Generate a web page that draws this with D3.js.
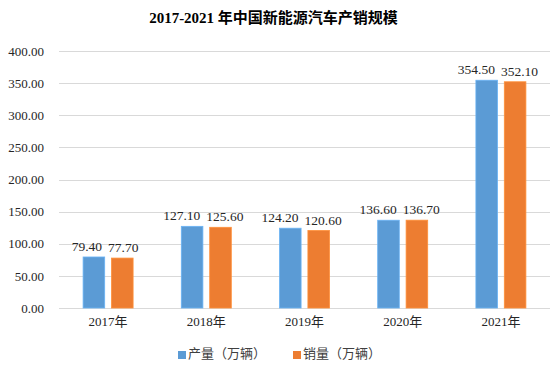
<!DOCTYPE html>
<html>
<head>
<meta charset="utf-8">
<script src="https://cdn.jsdelivr.net/npm/d3@7"></script>
<style>
  body { margin: 0; background: #fff; }
  text { font-family: "Liberation Serif", "Noto Sans CJK SC", serif; }
</style>
</head>
<body>
<div id="chart"></div>
<script>
const years = ["2017年", "2018年", "2019年", "2020年", "2021年"];
const production = [79.40, 127.10, 124.20, 136.60, 354.50];
const sales = [77.70, 125.60, 120.60, 136.70, 352.10];
const seriesNames = ["产量（万辆）", "销量（万辆）"];
const colors = ["#5b9bd5", "#ed7d31"];
const yTicks = [0, 50, 100, 150, 200, 250, 300, 350, 400];

const width = 557,
    height = 371,
    margin = ({ top: 51, right: 7, bottom: 63, left: 59 });

let svg = d3.select("#chart")
    .append("svg")
    .attr("width", width)
    .attr("height", height);

svg.append("text")
    .attr("x", width / 2 - 5)
    .attr("y", 23)
    .attr("text-anchor", "middle")
    .style("font-size", "15px")
    .style("font-weight", "bold")
    .text("2017-2021 年中国新能源汽车产销规模");

let x = d3.scaleBand()
    .domain(years)
    .range([margin.left, width - margin.right]);

let xs = d3.scaleBand()
    .domain([0, 1])
    .range([x.bandwidth() / 2 - 25, x.bandwidth() / 2 + 25])
    .paddingInner(0.24);

let y = d3.scaleLinear()
    .domain([0, 400])
    .range([height - margin.bottom, margin.top]);

// gridlines
svg.append("g")
    .selectAll("line")
    .data(yTicks)
    .join("line")
    .attr("x1", margin.left)
    .attr("x2", width - margin.right)
    .attr("y1", d => Math.round(y(d)) + 0.5)
    .attr("y2", d => Math.round(y(d)) + 0.5)
    .attr("stroke", "#d9d9d9")
    .attr("stroke-width", 1);

// y labels
let yAxis = svg.append("g")
    .attr("transform", `translate(${margin.left - 15},0)`)
    .call(d3.axisLeft(y).tickValues(yTicks).tickFormat(d3.format(".2f")).tickSize(0));
yAxis.select(".domain").remove();
yAxis.selectAll("text")
    .attr("x", 0)
    .style("font-size", "13px")
    .style("font-family", "'Liberation Serif', serif")
    .attr("fill", "#262626");

// x labels
let xAxis = svg.append("g")
    .attr("transform", `translate(0,${height - margin.bottom + 6})`)
    .call(d3.axisBottom(x).tickSize(0));
xAxis.select(".domain").remove();
xAxis.selectAll("text")
    .style("font-size", "13px")
    .style("font-family", "'Liberation Serif', 'Noto Sans CJK SC', serif")
    .attr("fill", "#262626");

const series = [production, sales];

series.forEach((vals, i) => {
    let g = svg.append("g");
    g.selectAll("rect")
        .data(vals)
        .join("rect")
        .attr("x", (d, j) => x(years[j]) + xs(i))
        .attr("width", xs.bandwidth())
        .attr("y", d => y(d))
        .attr("height", d => y(0) - y(d))
        .attr("fill", colors[i])
        .attr("stroke", d3.color(colors[i]).brighter(0.4))
        .attr("stroke-width", 0.8);

    // labels pushed apart so the pair never collides
    g.selectAll("text")
        .data(vals)
        .join("text")
        .attr("x", (d, j) => x(years[j]) + x.bandwidth() / 2 + (i === 0 ? -6 : 0))
        .attr("y", d => y(d) - 6)
        .attr("text-anchor", i === 0 ? "end" : "start")
        .style("font-size", "13.5px")
        .attr("fill", "#262626")
        .text(d => d.toFixed(2));
});

// legend
let legend = svg.append("g")
    .selectAll("g")
    .data(seriesNames)
    .join("g")
    .attr("transform", (d, i) => `translate(${178 + i * 115},355)`);

legend.append("rect")
    .attr("x", 0)
    .attr("y", -4)
    .attr("width", 8)
    .attr("height", 8)
    .attr("fill", (d, i) => colors[i]);

legend.append("text")
    .attr("x", 10)
    .attr("y", 0)
    .attr("dominant-baseline", "middle")
    .style("font-size", "13px")
    .attr("fill", "#404040")
    .text(d => d);
</script>
</body>
</html>
